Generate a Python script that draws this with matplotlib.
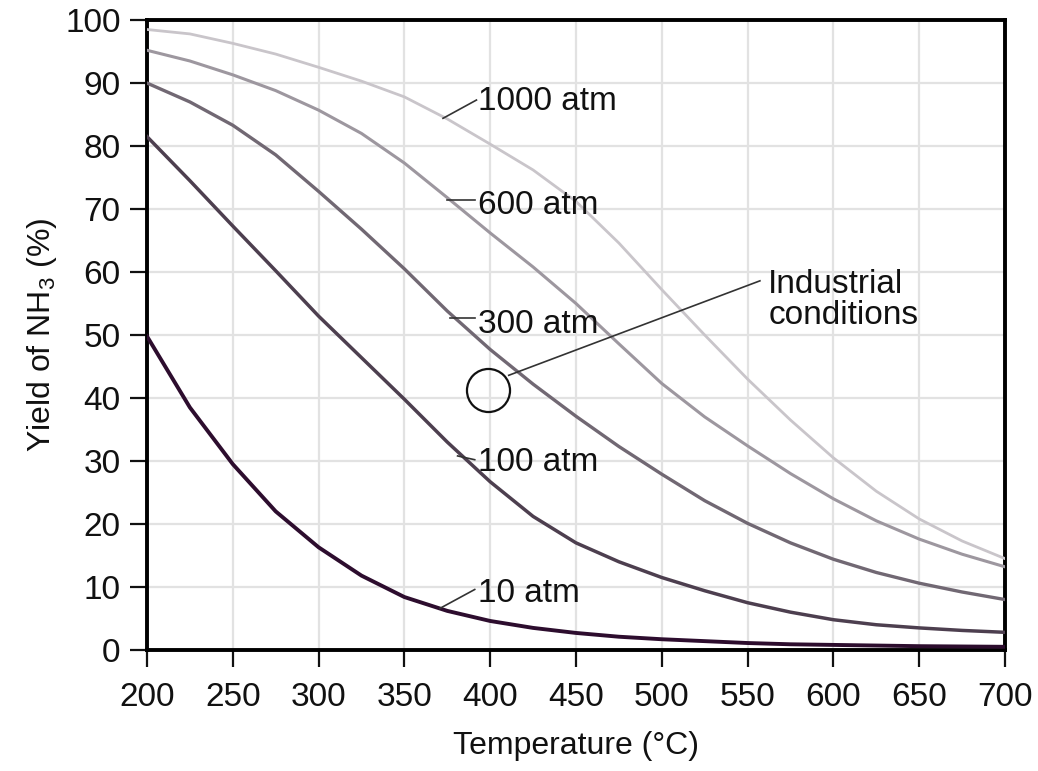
import matplotlib
matplotlib.use("Agg")
import matplotlib.pyplot as plt

plt.rcParams['font.family'] = ['Liberation Sans', 'DejaVu Sans']
plt.rcParams['mathtext.fontset'] = 'custom'
plt.rcParams['mathtext.rm'] = 'Liberation Sans'

# Temperature grid (deg C) and equilibrium yield of NH3 (%)
temps = [200, 225, 250, 275, 300, 325, 350, 375, 400, 425, 450,
         475, 500, 525, 550, 575, 600, 625, 650, 675, 700]
yield_1000 = [98.5, 97.8, 96.3, 94.6, 92.5, 90.3, 87.8, 84.3, 80.3, 76.2, 71.2,
              64.6, 57.2, 50.0, 43.0, 36.5, 30.5, 25.2, 20.8, 17.3, 14.5]
yield_600 = [95.2, 93.5, 91.3, 88.8, 85.7, 82.0, 77.3, 71.8, 66.2, 60.8, 55.0,
             48.6, 42.3, 37.0, 32.4, 28.0, 24.0, 20.5, 17.6, 15.2, 13.2]
yield_300 = [90.0, 87.0, 83.3, 78.6, 72.8, 66.8, 60.5, 53.8, 47.7, 42.2, 37.1,
             32.3, 27.9, 23.7, 20.1, 17.0, 14.4, 12.3, 10.6, 9.2, 8.0]
yield_100 = [81.5, 74.5, 67.3, 60.2, 53.0, 46.4, 39.8, 33.0, 26.7, 21.2, 17.0,
             14.0, 11.5, 9.4, 7.5, 6.0, 4.8, 4.0, 3.5, 3.1, 2.8]
yield_10 = [49.8, 38.5, 29.5, 22.0, 16.3, 11.8, 8.4, 6.2, 4.6, 3.5, 2.7,
            2.1, 1.7, 1.4, 1.1, 0.9, 0.8, 0.7, 0.6, 0.55, 0.5]

labels = ['1000 atm', '600 atm', '300 atm', '100 atm', '10 atm']
series = [yield_1000, yield_600, yield_300, yield_100, yield_10]
colors = ['#c9c5ca', '#9d979f', '#716873', '#4d3f4f', '#2d0d2e']
widths = [2.0, 2.2, 2.4, 2.5, 2.8]

# label text anchor (left x, centre y) and leader line start/end
label_pos = [(393, 87.0), (393, 70.6), (393, 51.6), (393, 29.8), (393, 9.0)]
leaders = [((372.5, 84.4), (392, 87.3)),
           ((375, 71.4), (391, 71.4)),
           ((376.5, 52.7), (391, 52.7)),
           ((381, 30.8), (391, 30.2)),
           ((370.7, 6.6), (391, 9.6))]

# industrial conditions marker
ind_t, ind_y = 398.7, 41.3

fig = plt.figure(figsize=(10.38, 7.71), dpi=100)
ax = fig.add_axes([0.1416, 0.157, 0.8266, 0.817])

for y, c, lw in zip(series, colors, widths):
    ax.plot(temps, y, color=c, lw=lw, solid_joinstyle='round', zorder=3)

for lab, (tx, ty), (p0, p1) in zip(labels, label_pos, leaders):
    ax.plot([p0[0], p1[0]], [p0[1], p1[1]], color='#333333', lw=1.2, zorder=4)
    ax.text(tx, ty, lab, fontsize=24, va='center', ha='left', color='#111111', zorder=5)

ax.plot([ind_t], [ind_y], marker='o', ms=31, mfc='none', mec='#111111', mew=1.6, zorder=5)
ax.plot([410.8, 557.2], [43.6, 58.6], color='#333333', lw=1.2, zorder=4)
ax.text(562, 55.6, 'Industrial\nconditions', fontsize=24, va='center', ha='left',
        linespacing=1.0, color='#111111')

ax.set_xlim(200, 700)
ax.set_ylim(0, 100)
ax.set_xticks(range(200, 701, 50))
ax.set_yticks(range(0, 101, 10))
ax.grid(True, color='#e2e2e2', lw=1.6, zorder=0)
ax.set_axisbelow(True)

for s in ax.spines.values():
    s.set_linewidth(2.8)
    s.set_color('black')
ax.tick_params(direction='out', length=12, width=1.6, labelsize=24, colors='#111111')
ax.tick_params(axis='x', pad=11)
ax.tick_params(axis='y', pad=7)

ax.set_xlabel('Temperature (°C)', fontsize=23, color='#111111')
ax.set_ylabel('Yield of NH$_3$ (%)', fontsize=23, color='#111111')
ax.xaxis.set_label_coords(0.5, -0.128)
ax.yaxis.set_label_coords(-0.103, 0.5)

fig.savefig('out.png', dpi=100)
